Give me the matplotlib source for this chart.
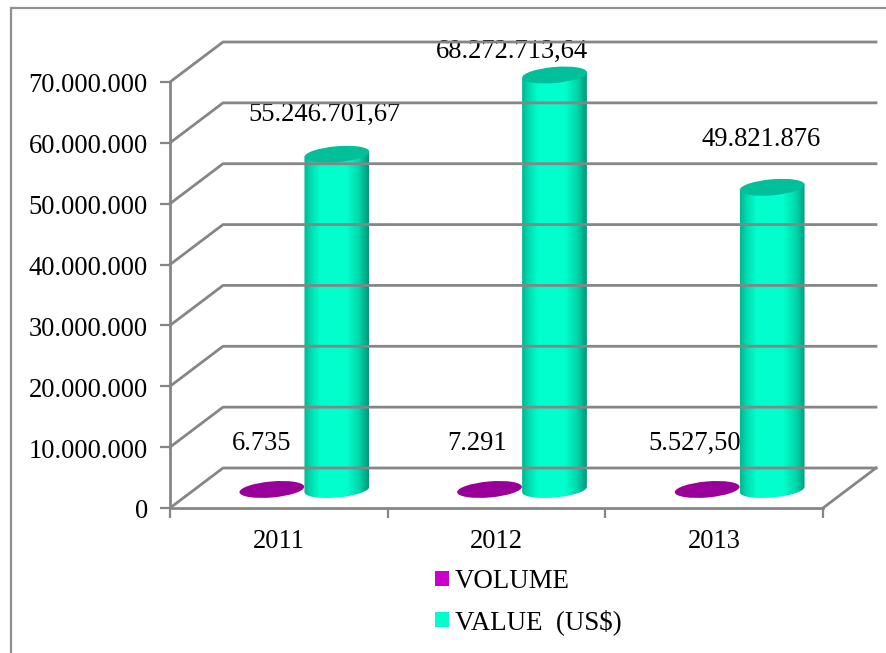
import numpy as np
import matplotlib
matplotlib.use("Agg")
import matplotlib.pyplot as plt
from matplotlib.patches import Ellipse, Patch, Rectangle
from matplotlib.path import Path
from matplotlib.transforms import Affine2D, IdentityTransform
from matplotlib.colors import to_rgb

years = ["2011", "2012", "2013"]
volume = [6735, 7291, 5527.5]
value = [55246701.67, 68272713.64, 49821876]
volume_labels = ["6.735", "7.291", "5.527,50"]
value_labels = ["55.246.701,67", "68.272.713,64", "49.821.876"]
y_ticks = [0, 10000000, 20000000, 30000000, 40000000, 50000000, 60000000, 70000000]
series_names = ["VOLUME", "VALUE  (US$)"]

W, H = 886, 653
GRAY = "#868686"
plt.rcParams["font.family"] = ["Liberation Serif", "DejaVu Serif"]
FS = 19.1

fig = plt.figure(figsize=(W / 100, H / 100), dpi=100)
ax = fig.add_axes([170 / W, (H - 508) / H, (823 - 170) / W, (508 - 82) / H])
ax.set_xlim(-0.5, 2.5)
ax.set_ylim(0, 70000000)
ax.patch.set_alpha(0)

# outer chart frame
fig.add_artist(Rectangle((11 / W, -0.05), 1.0, (H - 8) / H + 0.05, transform=fig.transFigure,
                         fill=False, ec="#8F8F8F", lw=1.6))

# axes and ticks
for s in ("top", "right"):
    ax.spines[s].set_visible(False)
for s in ("left", "bottom"):
    ax.spines[s].set_color(GRAY)
    ax.spines[s].set_linewidth(2)
ax.set_yticks(y_ticks)
ax.set_yticklabels([f"{v:,}".replace(",", ".") for v in y_ticks], fontsize=FS)
ax.set_xticks([-0.5, 0.5, 1.5, 2.5])
ax.set_xticklabels([])
ax.set_xticks([0, 1, 2], minor=True)
ax.set_xticklabels(years, minor=True, fontsize=FS)
ax.tick_params(axis="y", length=7, width=1.6, color=GRAY, pad=9)
ax.tick_params(axis="x", which="major", length=7, width=1.6, color=GRAY)
ax.tick_params(axis="x", which="minor", length=0, pad=15)
for lab in ax.get_yticklabels():
    lab.set_transform(lab.get_transform() + Affine2D().translate(0, -1))

# oblique walls (depth expressed as a display offset)
DX, DY = 53, 40
back = ax.transData + Affine2D().translate(DX, DY)
for v in y_ticks:
    x0, y0 = ax.transData.transform((-0.5, v))
    x1, y1 = back.transform((-0.5, v))
    x2, y2 = back.transform((2.5, v))
    fig.add_artist(plt.Line2D([x0, x1, x2], [y0, y1, y2], transform=IdentityTransform(),
                              color=GRAY, lw=2.0, zorder=1))
x0, y0 = ax.transData.transform((2.5, 0))
x1, y1 = back.transform((2.5, 0))
fig.add_artist(plt.Line2D([x0, x1], [y0, y1], transform=IdentityTransform(), color=GRAY, lw=2.0, zorder=1))

# cylinders
BX, BY = 25.5, 18.5
bar_t = ax.transData + Affine2D().translate(BX, BY)
px_per_cat = (823 - 170) / 3
BAR_W = 65
A, B, TILT = BAR_W / 2, 8.0, 5.0
th = np.radians(TILT)
barw = BAR_W / px_per_cat


def ell_pts(cx, cy, t):
    return np.column_stack([cx + A * np.cos(t) * np.cos(th) - B * np.sin(t) * np.sin(th),
                            cy + A * np.cos(t) * np.sin(th) + B * np.sin(t) * np.cos(th)])


base = np.array(to_rgb("#00FFCC"))
stops_x = [0.0, 0.10, 0.25, 0.66, 0.85, 1.0]
stops_k = [0.72, 0.86, 1.0, 1.0, 0.84, 0.60]
grad = np.array([base * k for k in np.interp(np.linspace(0, 1, 128), stops_x, stops_k)])[None, :, :]

for i in range(len(years)):
    # volume cylinder (practically flat on the floor)
    cx, cy = bar_t.transform((i - barw / 2, volume[i]))
    ax.add_patch(Ellipse((cx, cy), 2 * A, 2 * B, angle=TILT, transform=IdentityTransform(),
                         fc="#990099", ec="none", clip_on=False, zorder=3))
    # value cylinder
    xc = i + barw / 2
    bx, by = bar_t.transform((xc, 0))
    tx, ty = bar_t.transform((xc, value[i]))
    ty = ty - 1
    lower = ell_pts(bx, by, np.linspace(np.pi, 2 * np.pi, 60))
    upper = ell_pts(tx, ty, np.array([0.0, np.pi]))
    poly = np.vstack([lower, upper, lower[:1]])
    im = ax.imshow(grad, extent=[xc - barw / 2, xc + barw / 2, -3000000, value[i] + 3000000],
                   aspect="auto", transform=bar_t, interpolation="bilinear", zorder=4)
    im.set_clip_box(fig.bbox)
    im.set_clip_path(Path(poly), IdentityTransform())
    ax.add_patch(Ellipse((tx, ty), 2 * A, 2 * B, angle=TILT, transform=IdentityTransform(),
                         fc="#00BF99", ec="none", clip_on=False, zorder=5))
ax.set_xlim(-0.5, 2.5)
ax.set_ylim(0, 70000000)

# data labels, offsets from the cylinder tops in points
val_off = [(-9, 28), (-31, 16), (-8, 34)]
vol_off = [(-7, 33), (-9, 33), (-9, 33)]
for i in range(len(years)):
    ax.annotate(value_labels[i], (i + barw / 2, value[i]), xycoords=bar_t,
                xytext=(val_off[i][0], val_off[i][1]), textcoords="offset points",
                ha="center", va="center", fontsize=FS, color="black", zorder=6, annotation_clip=False)
    ax.annotate(volume_labels[i], (i - barw / 2, volume[i]), xycoords=bar_t,
                xytext=(vol_off[i][0], vol_off[i][1]), textcoords="offset points",
                ha="center", va="center", fontsize=FS, color="black", zorder=6, annotation_clip=False)

handles = [Patch(fc="#CC00CC", ec="none"), Patch(fc="#00FFCC", ec="none")]
fig.legend(handles, series_names, loc="upper left", bbox_to_anchor=(427 / W, (H - 561) / H),
           frameon=False, fontsize=19.4, handlelength=0.52, handleheight=0.52, handletextpad=0.22,
           labelspacing=0.56, borderpad=0.3, borderaxespad=0)

fig.savefig("out.png", dpi=100, facecolor="white")
